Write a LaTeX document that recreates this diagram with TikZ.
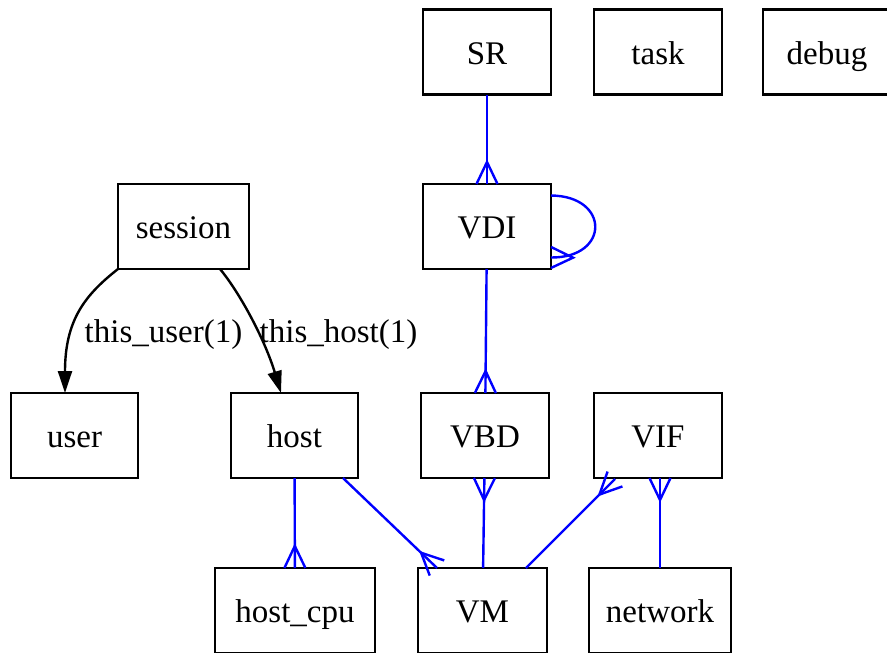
\documentclass[tikz,border=0pt]{standalone}
\usepackage{fontspec}
\setmainfont{Liberation Serif}
\usetikzlibrary{arrows.meta}

% crow's foot end for the one-to-many links
\pgfdeclarearrow{
  name = Crow,
  parameters = {\the\pgfarrowlength,\the\pgfarrowwidth},
  setup code = {
    \pgfarrowssettipend{0pt}
    \pgfarrowssetlineend{0pt}
    \pgfarrowssetbackend{-\pgfarrowlength}
    \pgfarrowshullpoint{0pt}{.5\pgfarrowwidth}
    \pgfarrowshullpoint{0pt}{-.5\pgfarrowwidth}
    \pgfarrowshullpoint{-\pgfarrowlength}{0pt}
    \pgfarrowssavethe\pgfarrowlength
    \pgfarrowssavethe\pgfarrowwidth
  },
  drawing code = {
    \pgfsetdash{}{0pt}
    \pgfpathmoveto{\pgfqpoint{0pt}{.5\pgfarrowwidth}}
    \pgfpathlineto{\pgfqpoint{-\pgfarrowlength}{0pt}}
    \pgfpathlineto{\pgfqpoint{0pt}{-.5\pgfarrowwidth}}
    \pgfusepathqstroke
  },
  defaults = {length=22pt, width=21pt}
}

\begin{document}
\begin{tikzpicture}[x=1pt, y=-1pt, font=\fontsize{33}{40}\selectfont,
    cls/.style={draw, rectangle, line width=2.4pt, minimum width=128pt, minimum height=85pt,
      text height=30pt, text depth=6pt, outer sep=0pt},
    ref/.style={line width=2.4pt, -{Triangle[length=22pt, width=14pt]}},
    link/.style={blue, line width=2.4pt, -Crow}]
    \useasboundingbox (0,0) rectangle (887,653);

    % top row
    \node [cls] (SR) at (487,52) {SR};
    \node [cls] (task) at (658,52) {task};
    \node [cls] (debug) at (827,52) {debug};
    % second row
    \node [cls, minimum width=131pt] (session) at (183.5,226.5) {session};
    \node [cls] (VDI) at (487,226.5) {VDI};
    % third row
    \node [cls, minimum width=127pt] (user) at (74.5,435.5) {user};
    \node [cls, minimum width=127pt] (host) at (294.5,435.5) {host};
    \node [cls] (VBD) at (485,435.5) {VBD};
    \node [cls] (VIF) at (658,435.5) {VIF};
    % bottom row
    \node [cls, minimum width=160pt] (hostcpu) at (295,610.5) {host\_cpu};
    \node [cls, minimum width=129pt] (VM) at (482.5,610.5) {VM};
    \node [cls, minimum width=142pt] (network) at (660,610.5) {network};

    % session references
    \draw [ref] (session.south west) .. controls (85,295) and (65,320) .. ([xshift=-9.5pt]user.north);
    \draw [ref] ([xshift=-29pt]session.south east) .. controls (240,293) and (265,340) .. ([xshift=-13.5pt]host.north);
    \node [anchor=base] (lbluser) at (163.5,342) {this\_user(1)};
    \node [anchor=base] (lblhost) at (338.5,342) {this\_host(1)};

    % one-to-many links
    \draw [link] (SR) -- (VDI);
    \draw [link] ([yshift=31pt]VDI.east) .. controls (610,196) and (610,258) .. ([yshift=-31pt]VDI.east);
    \draw [link] (VDI) -- (VBD);
    \draw [link] (host) -- (hostcpu);
    \draw [link] ([xshift=-15pt]host.south east) -- ([xshift=19pt]VM.north west);
    \draw [link] (VM) -- (VBD);
    \draw [link] ([xshift=-21pt]VM.north east) -- ([xshift=21pt,yshift=-1pt]VIF.south west);
    \draw [link] (network.north) -- (VIF.south -| network.north);
\end{tikzpicture}
\end{document}
